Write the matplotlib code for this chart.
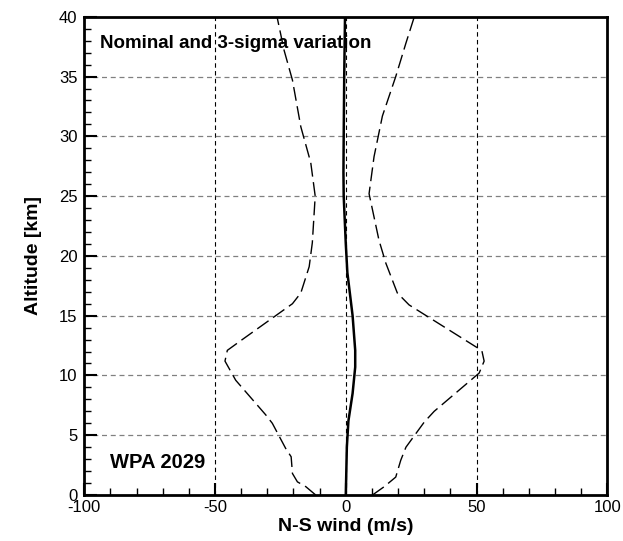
import numpy as np
import matplotlib.pyplot as plt
from matplotlib.ticker import MultipleLocator

plt.rcParams['font.family'] = ['Liberation Sans', 'DejaVu Sans']
plt.rcParams['axes.unicode_minus'] = False

# Nominal N-S wind profile (m/s) vs altitude (km)
alt_nom = [0.0, 2.0, 4.0, 6.2, 8.5, 10.7, 12.1, 15.0, 18.6, 21.0, 25.0, 27.0, 30.0, 35.0, 40.0]
wind_nom = [0.0, 0.2, 0.4, 1.0, 2.6, 3.6, 3.6, 2.6, 0.6, 0.0, -0.8, -0.9, -0.8, -0.6, -0.3]

# 3-sigma lower envelope
alt_lo = [0.0, 0.7, 1.1, 1.8, 3.2, 3.9, 6.0, 6.7, 9.6, 11.2, 12.1, 13.0, 16.0, 16.9,
          19.1, 21.1, 25.0, 27.8, 30.8, 34.7, 37.2, 40.0]
wind_lo = [-11.5, -15.3, -18.5, -20.4, -20.9, -23.0, -28.1, -30.6, -42.1, -46.2, -45.3,
           -39.6, -20.4, -17.2, -14.0, -12.8, -11.7, -13.4, -17.2, -20.4, -23.6, -26.3]

# 3-sigma upper envelope
alt_hi = [0.0, 0.7, 1.5, 2.9, 4.0, 6.1, 7.0, 10.2, 11.2, 12.1, 12.4, 15.9, 16.9,
          19.4, 21.3, 25.2, 28.3, 31.7, 35.0, 37.8, 40.0]
wind_hi = [10.2, 14.7, 19.1, 21.0, 23.0, 30.0, 33.8, 51.0, 52.9, 52.0, 49.7, 24.2, 19.7,
           15.3, 12.7, 8.9, 10.8, 14.0, 19.1, 23.0, 26.2]

fig = plt.figure(figsize=(6.23, 5.41), dpi=100)
ax = fig.add_axes([0.1353, 0.085, 0.8395, 0.884])

dash = (0, (10, 4))
ax.plot(wind_lo, alt_lo, color='black', lw=1.0, linestyle=dash)
ax.plot(wind_hi, alt_hi, color='black', lw=1.0, linestyle=dash)
ax.plot(wind_nom, alt_nom, color='black', lw=1.8)

ax.set_xlim(-100, 100)
ax.set_ylim(0, 40)
ax.xaxis.set_major_locator(MultipleLocator(50))
ax.xaxis.set_minor_locator(MultipleLocator(10))
ax.yaxis.set_major_locator(MultipleLocator(5))
ax.yaxis.set_minor_locator(MultipleLocator(1))

# grid: vertical black, horizontal gray, both short-dashed
for xv in [-50, 0, 50]:
    ax.axvline(xv, color='black', lw=0.8, linestyle=(0, (4, 3)), zorder=0)
for yv in range(5, 40, 5):
    ax.axhline(yv, color='#808080', lw=0.9, linestyle=(0, (4, 3)), zorder=0)

ax.tick_params(which='major', direction='in', length=9, width=1.5, labelsize=12,
               top=False, right=False)
ax.tick_params(axis='x', which='major', pad=3.5)
ax.tick_params(axis='y', which='major', pad=5)
ax.tick_params(which='minor', direction='in', length=5, width=1.0, top=False, right=False)

for sp in ax.spines.values():
    sp.set_linewidth(2.0)

ax.set_xlabel('N-S wind (m/s)', fontsize=14, fontweight='bold', labelpad=2)
ax.set_ylabel('Altitude [km]', fontsize=14, fontweight='bold', labelpad=12)

ax.text(-94, 37.8, 'Nominal and 3-sigma variation', fontsize=13.5, fontweight='bold',
        va='center', ha='left')
ax.text(-90, 2.7, 'WPA 2029', fontsize=14.5, fontweight='bold', va='center', ha='left')

fig.savefig('out.png', dpi=100)
